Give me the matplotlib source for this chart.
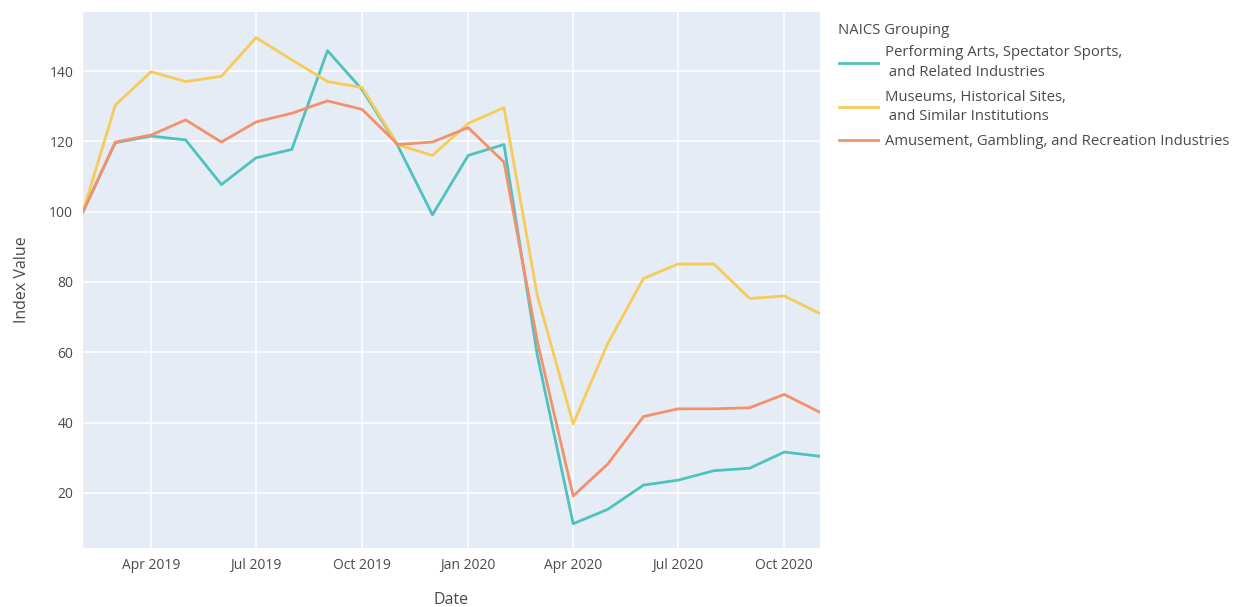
import pandas as pd
import matplotlib.pyplot as plt
import matplotlib.dates as mdates

plt.rcParams['font.family'] = ['Open Sans', 'DejaVu Sans']

# monthly index values, Feb 2019 = 100
dates = pd.date_range('2019-02-01', '2020-11-01', freq='MS')

performing_arts = [100, 119.6, 121.5, 120.4, 107.7, 115.3, 117.7, 145.8, 134.7, 118.7, 99.1,
                   116.0, 119.1, 59.0, 11.2, 15.3, 22.2, 23.6, 26.3, 27.0, 31.6, 30.4]
museums = [100, 130.3, 139.8, 137.0, 138.5, 149.5, 143.2, 137.0, 135.3, 119.0, 116.0,
           125.1, 129.6, 76.0, 39.6, 62.5, 81.0, 85.1, 85.1, 75.3, 76.0, 71.0]
amusement = [100, 119.8, 121.8, 126.1, 119.8, 125.5, 128.0, 131.5, 129.1, 119.1, 119.8,
             123.9, 114.1, 63.0, 19.1, 28.2, 41.7, 43.9, 43.9, 44.2, 48.0, 42.9]

series_names = ['Performing Arts, Spectator Sports,\n and Related Industries',
                'Museums, Historical Sites,\n and Similar Institutions',
                'Amusement, Gambling, and Recreation Industries']
series_values = [performing_arts, museums, amusement]
colors = ['#4FC2BD', '#F6CB58', '#F3916B']

text_color = '#4a4a4a'

fig = plt.figure(figsize=(12.45, 6.07), dpi=100)
ax = fig.add_axes([83 / 1245, 1 - 548 / 607, (820 - 83) / 1245, (548 - 12) / 607])
ax.set_facecolor('#E5ECF6')

for name, vals, c in zip(series_names, series_values, colors):
    ax.plot(dates, vals, color=c, linewidth=2, label=name)

ax.set_xlim(dates[0], dates[-1])
ax.set_ylim(4.3, 156.8)
ax.set_yticks([20, 40, 60, 80, 100, 120, 140])
ax.xaxis.set_major_locator(mdates.MonthLocator(bymonth=[1, 4, 7, 10]))
ax.xaxis.set_major_formatter(mdates.DateFormatter('%b %Y'))
ax.grid(True, color='white', linewidth=1.1)
ax.set_axisbelow(True)
for s in ax.spines.values():
    s.set_visible(False)
ax.tick_params(length=0, labelsize=10, labelcolor=text_color, pad=7)

ax.set_xlabel('Date', fontsize=11.5, color=text_color, labelpad=14)
ax.set_ylabel('Index Value', fontsize=11.5, color=text_color, labelpad=14)

# legend title drawn separately so the gap to the first entry matches
fig.text(838 / 1245, 1 - 30 / 607, 'NAICS Grouping', fontsize=10.7,
         color=text_color, ha='left', va='center')
leg = fig.legend(loc='upper left', bbox_to_anchor=(826 / 1245, 1 - 32 / 607),
                 frameon=False, fontsize=10.7, handlelength=2.6,
                 handletextpad=0.5, labelspacing=0.62)
for t in leg.get_texts():
    t.set_color(text_color)
    t.set_linespacing(1.45)

fig.savefig('out.png', dpi=100)
